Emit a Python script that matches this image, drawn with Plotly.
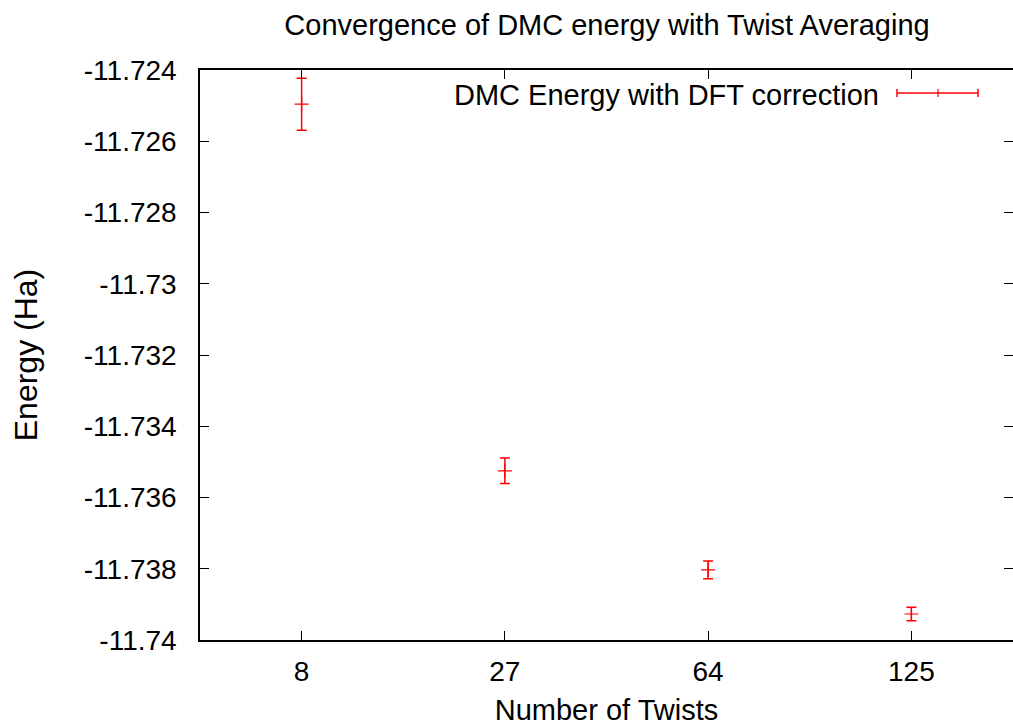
import plotly.graph_objects as go

# Twist-averaged DMC energies (Ha) with statistical error bars
twists = ["8", "27", "64", "125"]
energy = [-11.72496, -11.73525, -11.73803, -11.73927]
energy_err = [0.00073, 0.00036, 0.00025, 0.00019]

y_ticks = [-11.74, -11.738, -11.736, -11.734, -11.732, -11.73, -11.728, -11.726, -11.724]
y_tick_text = ["-11.74", "-11.738", "-11.736", "-11.734", "-11.732", "-11.73", "-11.728", "-11.726", "-11.724"]

series_name = "DMC Energy with DFT correction"
RED = "#ff0000"
FONT = "Liberation Sans, Arial, Helvetica, sans-serif"
FS_TEXT = 29
FS_TICK = 28

fig = go.Figure()
fig.add_trace(go.Scatter(
    x=twists, y=energy,
    mode="markers",
    name=series_name,
    marker=dict(symbol="cross-thin", size=10, color=RED,
                line=dict(color=RED, width=1.2)),
    error_y=dict(type="data", array=energy_err, visible=True,
                 color=RED, thickness=1.5, width=5),
    showlegend=False,
))
# invisible trace to carry the mirrored right-hand y axis
fig.add_trace(go.Scatter(x=twists, y=energy, yaxis="y2", mode="markers",
                         marker=dict(opacity=0), hoverinfo="skip", showlegend=False))

W, H = 1013, 726
L, R, T, B = 200, 0, 70, 86
pw = W - L - R

def px_x(px):
    return (px - L) / pw

def px_y(py):
    return 1 - (py - T) / (H - T - B)

# legend key: horizontal error bar with end caps and a centre tick
ky = px_y(93)
x0, x1, xc = px_x(897), px_x(978), px_x(938)
cap = 4 / (H - T - B)
shapes = [
    dict(type="line", xref="paper", yref="paper", x0=x0, x1=x1, y0=ky, y1=ky,
         line=dict(color=RED, width=1.5)),
    dict(type="line", xref="paper", yref="paper", x0=x0, x1=x0, y0=ky - cap, y1=ky + cap,
         line=dict(color=RED, width=1.5)),
    dict(type="line", xref="paper", yref="paper", x0=x1, x1=x1, y0=ky - cap, y1=ky + cap,
         line=dict(color=RED, width=1.5)),
    dict(type="line", xref="paper", yref="paper", x0=xc, x1=xc, y0=ky - cap, y1=ky + cap,
         line=dict(color=RED, width=1.2)),
]

fig.update_layout(
    width=W, height=H,
    margin=dict(l=L, r=R, t=T, b=B, pad=0),
    paper_bgcolor="white", plot_bgcolor="white",
    font=dict(family=FONT, size=FS_TEXT, color="black"),
    title=dict(text="Convergence of DMC energy with Twist Averaging",
               x=607 / W, xanchor="center", y=1 - 25 / H, yanchor="middle",
               font=dict(size=FS_TEXT)),
    xaxis=dict(
        type="category", range=[-0.5, 3.5],
        showline=True, linecolor="black", linewidth=1.5, mirror="ticks",
        ticks="inside", ticklen=9, tickwidth=1, tickcolor="black",
        showgrid=False, zeroline=False, automargin=False,
        ticklabelstandoff=6,
        title=dict(text="Number of Twists", standoff=21, font=dict(size=FS_TEXT)),
        tickfont=dict(size=FS_TICK),
    ),
    yaxis=dict(
        range=[-11.74, -11.724],
        tickvals=y_ticks, ticktext=y_tick_text,
        showline=True, linecolor="black", linewidth=1.5, mirror=False,
        ticks="inside", ticklen=9, tickwidth=1, tickcolor="black",
        showgrid=False, zeroline=False, automargin=False, ticklabelstandoff=16,
        title=dict(text="Energy (Ha)", standoff=37, font=dict(size=32)),
        tickfont=dict(size=FS_TICK),
    ),
    yaxis2=dict(
        overlaying="y", side="right", range=[-11.74, -11.724],
        tickvals=y_ticks, showticklabels=False,
        showline=False, ticks="inside", ticklen=9, tickwidth=1, tickcolor="black",
        showgrid=False, zeroline=False, automargin=False,
    ),
    shapes=shapes,
    annotations=[dict(text=series_name, xref="paper", yref="paper",
                      x=px_x(881), y=px_y(95), xanchor="right", yanchor="middle",
                      showarrow=False, font=dict(size=FS_TEXT))],
    showlegend=False,
)

fig.write_html("out.html")
